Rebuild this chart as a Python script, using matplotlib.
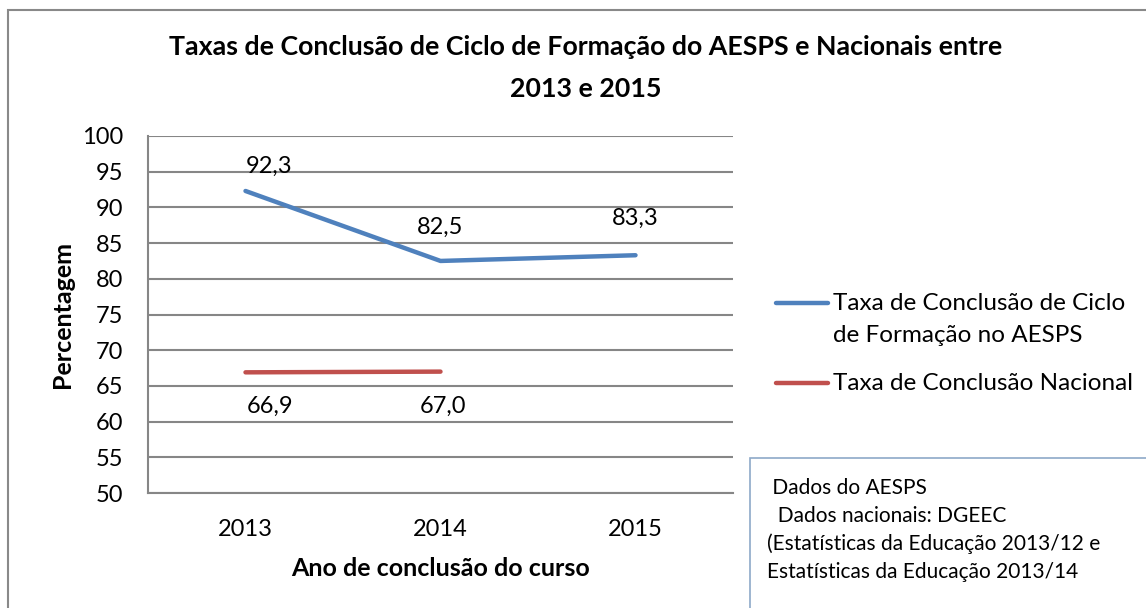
import matplotlib
matplotlib.use("Agg")
import matplotlib.pyplot as plt
from matplotlib.patches import Rectangle
from matplotlib.lines import Line2D

plt.rcParams['font.family'] = ['Lato', 'DejaVu Sans']

anos = ['2013', '2014', '2015']
taxa_aesps = [92.3, 82.5, 83.3]
taxa_nacional = [66.9, 67.0]
yticks = list(range(50, 101, 5))

titulo = "Taxas de Conclusão de Ciclo de Formação do AESPS e Nacionais entre\n2013 e 2015"
leg_aesps = "Taxa de Conclusão de Ciclo\nde Formação no AESPS"
leg_nac = "Taxa de Conclusão Nacional"
nota = (" Dados do AESPS\n"
        "  Dados nacionais: DGEEC\n"
        "(Estatísticas da Educação 2013/12 e\n"
        "Estatísticas da Educação 2013/14")

# deslocamento dos rótulos (pontos)
off_aesps = [(17, 18), (0, 24.5), (0, 26.5)]
off_nac = [(18, -24.5), (2, -25)]

azul = '#4F81BD'
vermelho = '#C0504D'
grelha = '#868686'

W, H = 1146, 608
fig = plt.figure(figsize=(W / 100, H / 100), dpi=100)
ax = fig.add_axes([148 / W, 1 - 493 / H, 585 / W, 357 / H])

x = list(range(len(anos)))
ax.plot(x, taxa_aesps, color=azul, lw=3.2, solid_capstyle='round')
ax.plot(x[:len(taxa_nacional)], taxa_nacional, color=vermelho, lw=3.2,
        solid_capstyle='round')

for xi, v, o in zip(x, taxa_aesps, off_aesps):
    ax.annotate(f"{v:.1f}".replace('.', ','), (xi, v), xytext=o,
                textcoords='offset points', ha='center', va='center', fontsize=17)
for xi, v, o in zip(x, taxa_nacional, off_nac):
    ax.annotate(f"{v:.1f}".replace('.', ','), (xi, v), xytext=o,
                textcoords='offset points', ha='center', va='center', fontsize=17)

ax.set_xlim(-0.5, len(anos) - 0.5)
ax.set_ylim(50, 100)
ax.set_yticks(yticks)
ax.set_xticks(x)
ax.set_xticklabels(anos)
ax.yaxis.grid(True, color=grelha, lw=1.5)
ax.set_axisbelow(True)
ax.tick_params(length=0, labelsize=17)
ax.tick_params(axis='y', pad=18)
ax.tick_params(axis='x', pad=19)
for s in ['top', 'right']:
    ax.spines[s].set_visible(False)
for s in ['left', 'bottom']:
    ax.spines[s].set_color(grelha)
    ax.spines[s].set_linewidth(1.5)

ax.set_xlabel("Ano de conclusão do curso", fontsize=18, fontweight='bold', labelpad=12)
ax.set_ylabel("Percentagem", fontsize=18, fontweight='bold', labelpad=5.5)

fig.suptitle(titulo, x=0.511, y=1 - 35 / H, fontsize=19.3, fontweight='bold',
             va='top', linespacing=1.9)

# legenda (linha azul alinhada com a primeira linha do texto)
for cor, texto, yl in [(azul, leg_aesps, 303), (vermelho, leg_nac, 383)]:
    fig.add_artist(Line2D([776 / W, 828 / W], [1 - yl / H, 1 - yl / H],
                          transform=fig.transFigure, color=cor, lw=3.2,
                          solid_capstyle='round'))
    fig.text(833 / W, 1 - (yl - 10) / H, texto, fontsize=17.5, va='top',
             ha='left', linespacing=1.62)

# moldura exterior
fig.add_artist(Rectangle((8 / W, -0.1), 1.2, 1 - 10 / H + 0.1,
                         transform=fig.transFigure, fill=False,
                         edgecolor='#898989', lw=1.5))
# caixa de nota
fig.add_artist(Rectangle((750 / W, -0.1), 1.2, 0.1 + 1 - 458 / H,
                         transform=fig.transFigure, fill=False,
                         edgecolor='#8EA9C8', lw=1.2))
fig.text(767 / W, 1 - 478 / H, nota, fontsize=15, va='top', ha='left',
         linespacing=1.48)

fig.savefig("out.png", dpi=100)
